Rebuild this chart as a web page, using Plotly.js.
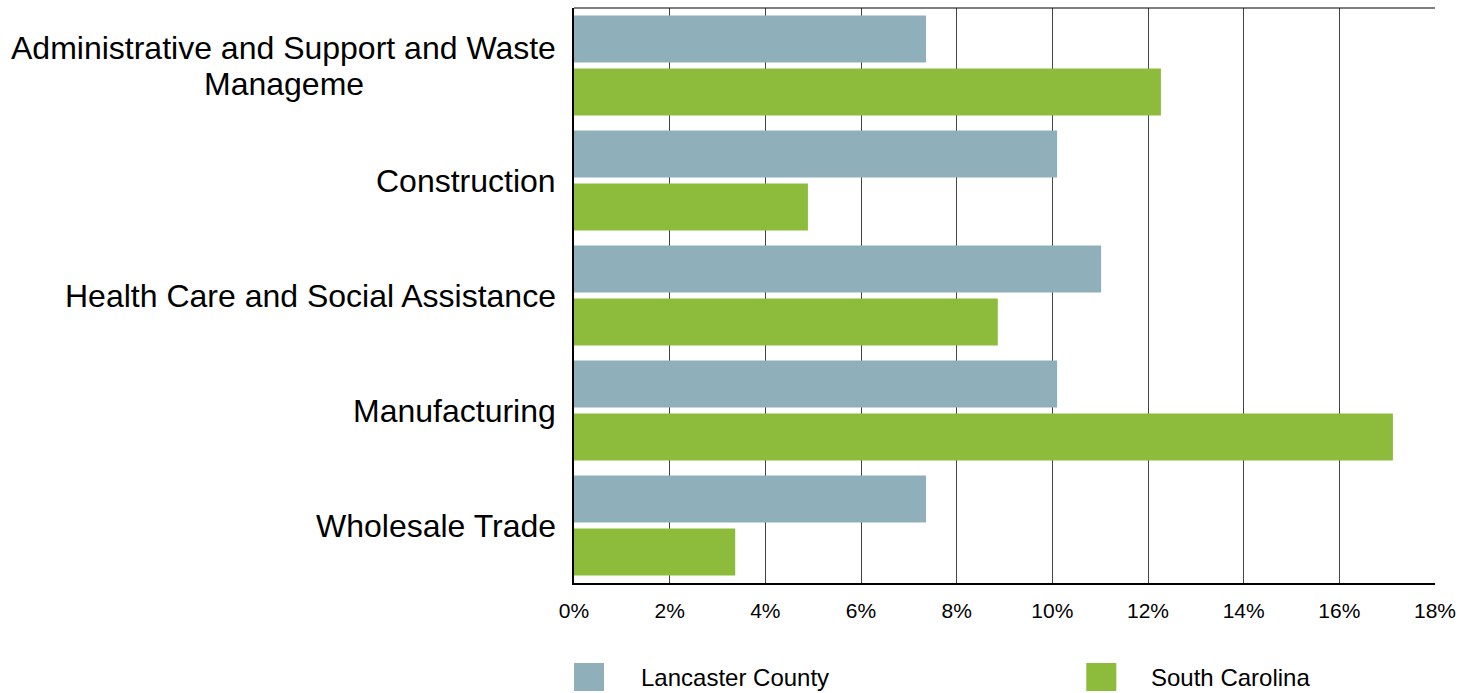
<!DOCTYPE html>
<html>
<head>
<meta charset="utf-8">
<script src="https://cdn.plot.ly/plotly-3.0.1.min.js"></script>
<style>html,body{margin:0;padding:0;background:#fff;}#chart{width:1473px;height:693px;}</style>
</head>
<body>
<div id="chart"></div>
<script>
const categories = [
  "Administrative and Support and Waste<br>Manageme",
  "Construction",
  "Health Care and Social Assistance",
  "Manufacturing",
  "Wholesale Trade"
];
const seriesNames = ["Lancaster County", "South Carolina"];
const lancaster = [7.36, 10.10, 11.02, 10.10, 7.36];
const southCarolina = [12.27, 4.89, 8.86, 17.12, 3.37];
const xTickVals = [0, 2, 4, 6, 8, 10, 12, 14, 16, 18];
const xTickText = ["0%", "2%", "4%", "6%", "8%", "10%", "12%", "14%", "16%", "18%"];
const colors = ["#8FAFBA", "#8DBB3B"];

const font = "'Liberation Sans', Arial, sans-serif";

const traces = [
  {type: "bar", orientation: "h", name: seriesNames[0], y: categories, x: lancaster,
   marker: {color: colors[0]}, showlegend: false, hoverinfo: "x+name"},
  {type: "bar", orientation: "h", name: seriesNames[1], y: categories, x: southCarolina,
   marker: {color: colors[1]}, showlegend: false, hoverinfo: "x+name"}
];

// category labels, one annotation per line (centred block, tighter line spacing)
const annotations = [];
const lineStep = 36;
categories.forEach(c => {
  const lines = c.split("<br>");
  const n = lines.length;
  // measure block: lines centred on a common centre; block right-aligned at axis
  lines.forEach((ln, i) => {
    annotations.push({
      xref: "paper", yref: "y", x: 0, y: c, text: ln, showarrow: false,
      xanchor: "right", yanchor: "middle", align: "center",
      xshift: -16, yshift: ((n - 1) / 2 - i) * lineStep,
      font: {family: font, size: 32, color: "#000"}, _line: i, _n: n
    });
  });
});

// legend (drawn manually for large square swatches)
const legendX = [0, 0.595];
const legendTextX = [0.0755, 0.668];
const shapes = [
  {type: "line", xref: "paper", yref: "paper", x0: 0, x1: 1, y0: 1, y1: 1,
   line: {color: "#000", width: 1}}
];
seriesNames.forEach((n, i) => {
  shapes.push({type: "rect", xref: "paper", yref: "paper", xsizemode: "pixel", ysizemode: "pixel",
    xanchor: legendX[i], yanchor: -0.1635, x0: 0, x1: 30, y0: -14, y1: 14,
    fillcolor: colors[i], line: {width: 0}});
  annotations.push({xref: "paper", yref: "paper", x: legendTextX[i], y: -0.1635,
    xanchor: "left", yanchor: "middle", text: n, showarrow: false,
    font: {family: font, size: 24, color: "#000"}});
});

// for multi-line labels: centre shorter lines under the widest line
function centreMultiLine(gd) {
  const ctx = document.createElement("canvas").getContext("2d");
  ctx.font = "32px " + font;
  const upd = {};
  gd.layout.annotations.forEach((a, k) => {
    if (a._n > 1) {
      const group = gd.layout.annotations.filter(b => b.y === a.y && b._n > 1);
      const maxW = Math.max(...group.map(b => ctx.measureText(b.text).width));
      const w = ctx.measureText(a.text).width;
      upd["annotations[" + k + "].xshift"] = -16 - (maxW - w) / 2;
    }
  });
  return Plotly.relayout(gd, upd);
}

const layout = {
  width: 1473, height: 693,
  margin: {l: 574, r: 38, t: 8, b: 110, pad: 0},
  paper_bgcolor: "#fff", plot_bgcolor: "#fff",
  barmode: "group", bargap: 0.08, bargroupgap: 0.11,
  font: {family: font, color: "#000"},
  xaxis: {
    range: [0, 18], tickvals: xTickVals, ticktext: xTickText,
    showgrid: true, gridcolor: "#444", gridwidth: 1,
    showline: true, linecolor: "#000", linewidth: 2,
    ticks: "", zeroline: false, ticklabelstandoff: 8,
    tickfont: {family: font, size: 21, color: "#000"}, fixedrange: true
  },
  yaxis: {
    autorange: "reversed", showticklabels: false, showgrid: false,
    showline: true, linecolor: "#000", linewidth: 2, ticks: "", zeroline: false,
    fixedrange: true
  },
  showlegend: false,
  annotations: annotations,
  shapes: shapes
};

Plotly.newPlot("chart", traces, layout, {displayModeBar: false, staticPlot: true})
  .then(gd => centreMultiLine(gd));
</script>
</body>
</html>
